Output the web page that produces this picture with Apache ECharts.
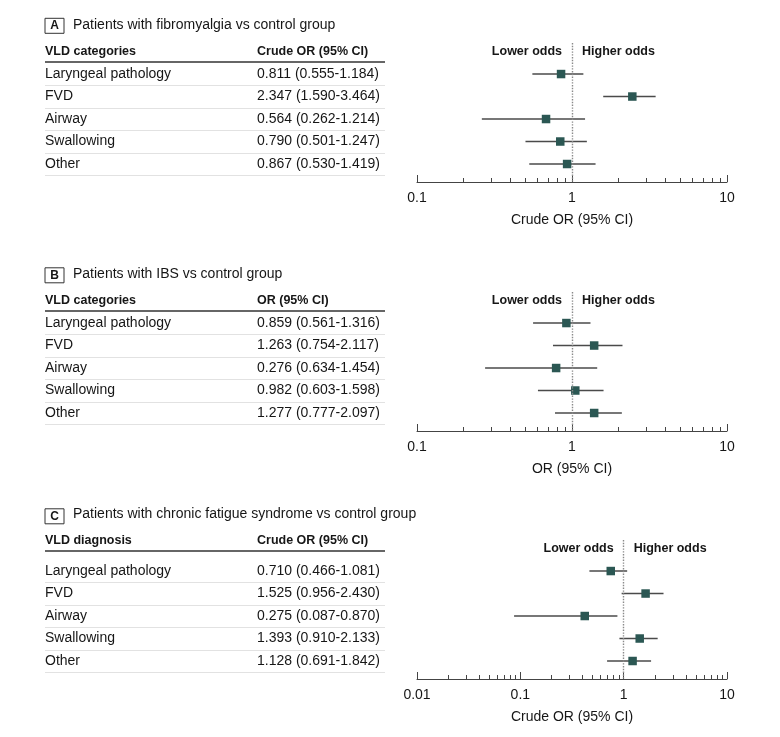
<!DOCTYPE html>
<html>
<head>
<meta charset="utf-8">
<script src="https://cdn.jsdelivr.net/npm/echarts@6/dist/echarts.min.js"></script>
<style>
  html, body { margin: 0; padding: 0; background: #fff; }
  #chart { width: 780px; height: 737px; }
</style>
</head>
<body>
<div id="chart"></div>
<script>
// ---- data ----
const rowLabels = ['Laryngeal pathology', 'FVD', 'Airway', 'Swallowing', 'Other'];

// A: fibromyalgia vs control
const orTextA = ['0.811 (0.555-1.184)', '2.347 (1.590-3.464)', '0.564 (0.262-1.214)', '0.790 (0.501-1.247)', '0.867 (0.530-1.419)'];
const pointA = [0.85, 2.45, 0.68, 0.84, 0.93];
const lowA   = [0.555, 1.590, 0.262, 0.501, 0.530];
const highA  = [1.184, 3.464, 1.214, 1.247, 1.419];

// B: IBS vs control
const orTextB = ['0.859 (0.561-1.316)', '1.263 (0.754-2.117)', '0.276 (0.634-1.454)', '0.982 (0.603-1.598)', '1.277 (0.777-2.097)'];
const pointB = [0.92, 1.39, 0.79, 1.05, 1.39];
const lowB   = [0.561, 0.754, 0.275, 0.603, 0.777];
const highB  = [1.316, 2.117, 1.454, 1.598, 2.097];

// C: chronic fatigue syndrome vs control
const orTextC = ['0.710 (0.466-1.081)', '1.525 (0.956-2.430)', '0.275 (0.087-0.870)', '1.393 (0.910-2.133)', '1.128 (0.691-1.842)'];
const pointC = [0.75, 1.63, 0.42, 1.43, 1.22];
const lowC   = [0.466, 0.956, 0.087, 0.910, 0.691];
const highC  = [1.081, 2.430, 0.870, 2.133, 1.842];

// axis ticks
const majorTicksAB = [0.1, 1, 10];
const minorTicksAB = [0.2, 0.3, 0.4, 0.5, 0.6, 0.7, 0.8, 0.9, 2, 3, 4, 5, 6, 7, 8, 9];
const majorTicksC = [0.01, 0.1, 1, 10];
const minorTicksC = [0.02, 0.03, 0.04, 0.05, 0.06, 0.07, 0.08, 0.09,
                     0.2, 0.3, 0.4, 0.5, 0.6, 0.7, 0.8, 0.9, 2, 3, 4, 5, 6, 7, 8, 9];

// ---- layout ----
const FONT = '"Liberation Sans", Arial, sans-serif';
const INK = '#161616';
const MARK = '#2b5753';

const panels = [
  { key: 'A', title: 'Patients with fibromyalgia vs control group', head1: 'VLD categories', head2: 'Crude OR (95% CI)',
    axisName: 'Crude OR (95% CI)', orText: orTextA, point: pointA, low: lowA, high: highA,
    xMin: 0.1, major: majorTicksAB, minor: minorTicksAB, gridTop: 43, boxY: 18.3, titleY: 25, headY: 52, lineY: 62 },
  { key: 'B', title: 'Patients with IBS vs control group', head1: 'VLD categories', head2: 'OR (95% CI)',
    axisName: 'OR (95% CI)', orText: orTextB, point: pointB, low: lowB, high: highB,
    xMin: 0.1, major: majorTicksAB, minor: minorTicksAB, gridTop: 292, boxY: 267.8, titleY: 274, headY: 301, lineY: 311 },
  { key: 'C', title: 'Patients with chronic fatigue syndrome vs control group', head1: 'VLD diagnosis', head2: 'Crude OR (95% CI)',
    axisName: 'Crude OR (95% CI)', orText: orTextC, point: pointC, low: lowC, high: highC,
    xMin: 0.01, major: majorTicksC, minor: minorTicksC, gridTop: 540, boxY: 508.8, titleY: 514, headY: 541, lineY: 551 }
];

const chart = echarts.init(document.getElementById('chart'));

const grid = [], xAxis = [], yAxis = [], series = [];
panels.forEach((p, k) => {
  grid.push({ left: 417, right: 53, top: p.gridTop, height: 139, containLabel: false, outerBoundsMode: 'none' });

  xAxis.push({
    gridIndex: k, type: 'log', logBase: 10, min: p.xMin, max: 10, position: 'bottom',
    axisLine: { onZero: false, lineStyle: { color: '#444', width: 1 } },
    axisTick: { inside: true, length: 7, lineStyle: { color: '#444' }, customValues: p.major },
    axisLabel: { customValues: p.major, color: INK, fontSize: 14, fontFamily: FONT, margin: 9,
                 formatter: v => String(+(+v).toPrecision(3)) },
    splitLine: { show: false },
    name: p.axisName, nameLocation: 'middle', nameGap: 31,
    nameTextStyle: { color: INK, fontSize: 14, fontFamily: FONT }
  });
  // minor ticks only
  xAxis.push({
    gridIndex: k, type: 'log', logBase: 10, min: p.xMin, max: 10, position: 'bottom',
    axisLine: { show: false, onZero: false },
    axisTick: { inside: true, length: 4, lineStyle: { color: '#444' }, customValues: p.minor },
    axisLabel: { show: false },
    splitLine: { show: false }
  });

  yAxis.push({ gridIndex: k, type: 'value', inverse: true, min: -1.38, max: 4.8, show: false });

  // confidence intervals
  series.push({
    type: 'custom', xAxisIndex: 2 * k, yAxisIndex: k, silent: true,
    data: p.low.map((lo, i) => [lo, p.high[i], i]),
    encode: { x: [0, 1], y: 2 },
    renderItem: (params, api) => {
      const a = api.coord([api.value(0), api.value(2)]);
      const b = api.coord([api.value(1), api.value(2)]);
      return { type: 'line', shape: { x1: a[0], y1: a[1], x2: b[0], y2: b[1] },
               style: { stroke: '#4a4a4a', lineWidth: 1.4 } };
    },
    z: 2
  });

  // point estimates + reference line at OR = 1
  series.push({
    type: 'scatter', xAxisIndex: 2 * k, yAxisIndex: k, silent: true,
    data: p.point.map((v, i) => [v, i]),
    symbol: 'rect', symbolSize: 8.5,
    itemStyle: { color: MARK, opacity: 1 },
    z: 3,
    markLine: {
      silent: true, symbol: 'none', label: { show: false },
      lineStyle: { type: 'dotted', color: '#8a8a8a', width: 1.4 },
      data: [{ xAxis: 1 }]
    }
  });
});

chart.setOption({ animation: false, backgroundColor: '#fff', grid, xAxis, yAxis, series });

// table, panel headings and the Lower/Higher odds captions, rows aligned with the plot rows
const graphic = [];
const txt = (text, x, y, opts) => ({
  type: 'text', silent: true,
  style: Object.assign({ text, x, y, fill: INK, fontSize: 14, fontFamily: FONT, align: 'left', verticalAlign: 'middle' }, opts || {})
});
panels.forEach((p, k) => {
  const toPx = (xv, yv) => chart.convertToPixel({ xAxisIndex: 2 * k, yAxisIndex: k }, [xv, yv]);

  graphic.push({ type: 'rect', silent: true, shape: { x: 45, y: p.boxY, width: 19, height: 15 },
                 style: { fill: '#fff', stroke: '#333', lineWidth: 1 } });
  graphic.push(txt(p.key, 54.5, p.boxY + 7.8, { align: 'center', fontWeight: 'bold', fontSize: 12 }));
  graphic.push(txt(p.title, 73, p.titleY, { fontSize: 14 }));
  graphic.push(txt(p.head1, 45, p.headY, { fontWeight: 'bold', fontSize: 12.5 }));
  graphic.push(txt(p.head2, 257, p.headY, { fontWeight: 'bold', fontSize: 12.5 }));
  graphic.push({ type: 'line', silent: true, shape: { x1: 45, y1: p.lineY, x2: 385, y2: p.lineY },
                 style: { stroke: '#333', lineWidth: 1.5 } });

  const ref = toPx(1, -1);
  graphic.push(txt('Lower odds', ref[0] - 10, ref[1], { align: 'right', fontWeight: 'bold', fontSize: 12.5 }));
  graphic.push(txt('Higher odds', ref[0] + 10, ref[1], { align: 'left', fontWeight: 'bold', fontSize: 12.5 }));

  const ys = rowLabels.map((_, i) => toPx(1, i)[1]);
  const step = ys[1] - ys[0];
  rowLabels.forEach((lab, i) => {
    graphic.push(txt(lab, 45, ys[i]));
    graphic.push(txt(p.orText[i], 257, ys[i]));
    const sy = Math.round(ys[i] + step / 2) + 0.5;
    graphic.push({ type: 'line', silent: true, shape: { x1: 45, y1: sy, x2: 385, y2: sy },
                   style: { stroke: '#e2e2e2', lineWidth: 1 } });
  });
});
chart.setOption({ graphic });
</script>
</body>
</html>
